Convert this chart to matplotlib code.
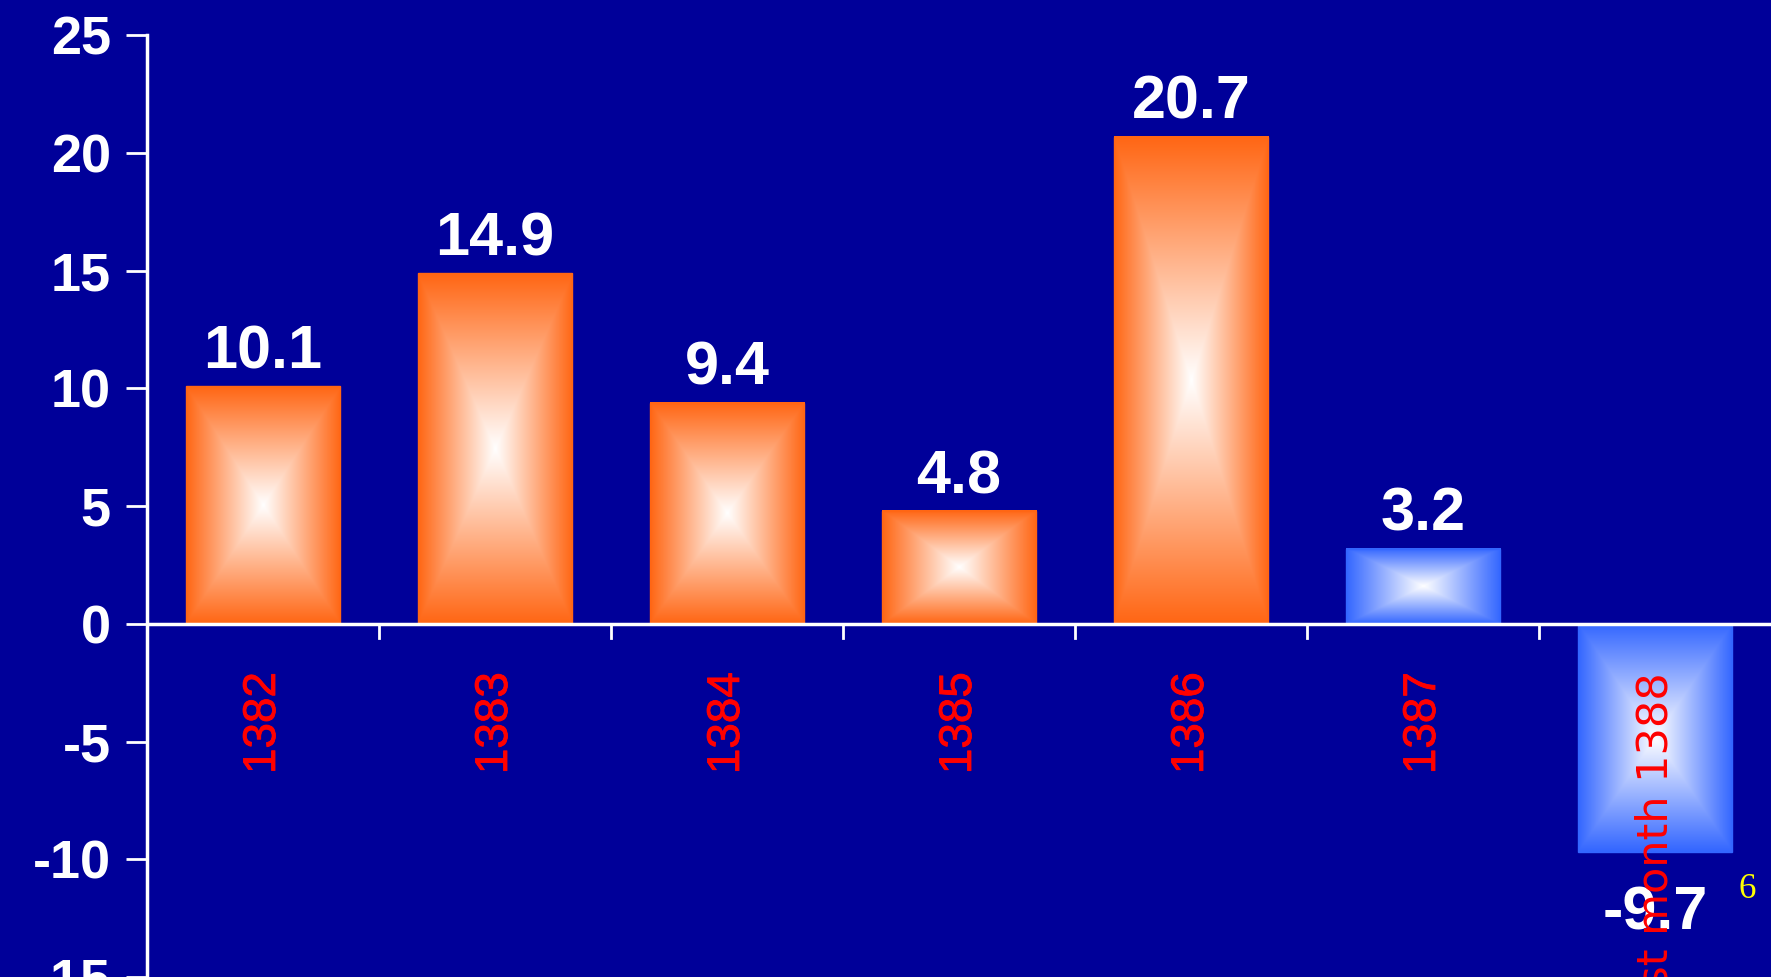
import matplotlib

matplotlib.use("Agg")
import matplotlib.patheffects as pe
import matplotlib.pyplot as plt
import numpy as np
from matplotlib.colors import to_rgb

# Growth by year (percent)
years = ["1382", "1383", "1384", "1385", "1386", "1387", "First month 1388"]
values = [10.1, 14.9, 9.4, 4.8, 20.7, 3.2, -9.7]
value_labels = ["10.1", "14.9", "9.4", "4.8", "20.7", "3.2", "-9.7"]
yticks = [-15, -10, -5, 0, 5, 10, 15, 20, 25]

BG = "#000099"
ORANGE = "#ff6614"
BLUE = "#3366ff"
bar_colours = [ORANGE] * 5 + [BLUE] * 2
BAR_W = 0.667


def rect_gradient(edge, n=200):
    """White centre fading to `edge` along a rectangular path."""
    u = np.linspace(-1, 1, n)
    xx, yy = np.meshgrid(u, u)
    t = np.maximum(np.abs(xx), np.abs(yy))[..., None]
    e = np.array(to_rgb(edge))
    return (1 - t) * np.ones(3) + t * e


fig = plt.figure(figsize=(17.71, 9.77), dpi=100, facecolor=BG)
ax = fig.add_axes([147 / 1771, 0, 1 - 147 / 1771, 1], facecolor=BG)
ax.set_xlim(-0.5, len(years) - 0.5)
ax.set_ylim(-14.6, 26.5)

for i, (v, c) in enumerate(zip(values, bar_colours)):
    lo, hi = min(0, v), max(0, v)
    ax.imshow(rect_gradient(c), extent=(i - BAR_W / 2, i + BAR_W / 2, lo, hi),
              aspect="auto", interpolation="bilinear", zorder=2)
    ax.bar(i, v, width=BAR_W, color="none", edgecolor=c, linewidth=1, zorder=3)
    if v >= 0:
        ax.text(i, v + 0.75, value_labels[i], ha="center", va="baseline",
                color="white", fontsize=44, fontweight="bold",
                family="Liberation Sans", zorder=4)
    else:
        ax.text(i, v - 1.4, value_labels[i], ha="center", va="top",
                color="white", fontsize=44, fontweight="bold",
                family="Liberation Sans", zorder=4)

# category labels hang below the zero line
red_edge = [pe.withStroke(linewidth=0.6, foreground="red")]
for i, name in enumerate(years):
    if i < len(years) - 1:
        ax.text(i, -2.05, name, rotation=90, ha="center", va="top", color="red",
                fontsize=33, family="Liberation Sans", path_effects=red_edge,
                zorder=5)
    else:
        ax.text(i, -2.05, name, rotation=90, ha="center", va="top", color="red",
                fontsize=31, family="DejaVu Sans", zorder=5)

# axes: y spine on the left, x axis drawn along zero
for s in ("top", "right", "bottom"):
    ax.spines[s].set_visible(False)
ax.spines["left"].set_color("white")
ax.spines["left"].set_linewidth(2.5)
ax.spines["left"].set_bounds(-15, 25)
ax.axhline(0, color="white", lw=2.5, zorder=4)
ax.set_yticks(yticks)
ax.set_yticklabels([str(t) for t in yticks])
ax.tick_params(axis="y", colors="white", length=15, width=2, labelsize=39, pad=11)
for lab in ax.get_yticklabels():
    lab.set_fontweight("bold")
    lab.set_family("Liberation Sans")
ax.set_xticks([])
for b in np.arange(0.5, len(years) - 0.5, 1.0):
    ax.plot([b, b], [0, -0.62], color="white", lw=2, zorder=4)

fig.text(1747 / 1771, 1 - 889 / 977, "6", color="yellow", fontsize=25,
         family="Liberation Serif", ha="center", va="center")

fig.savefig("out.png", dpi=100, facecolor=BG)
